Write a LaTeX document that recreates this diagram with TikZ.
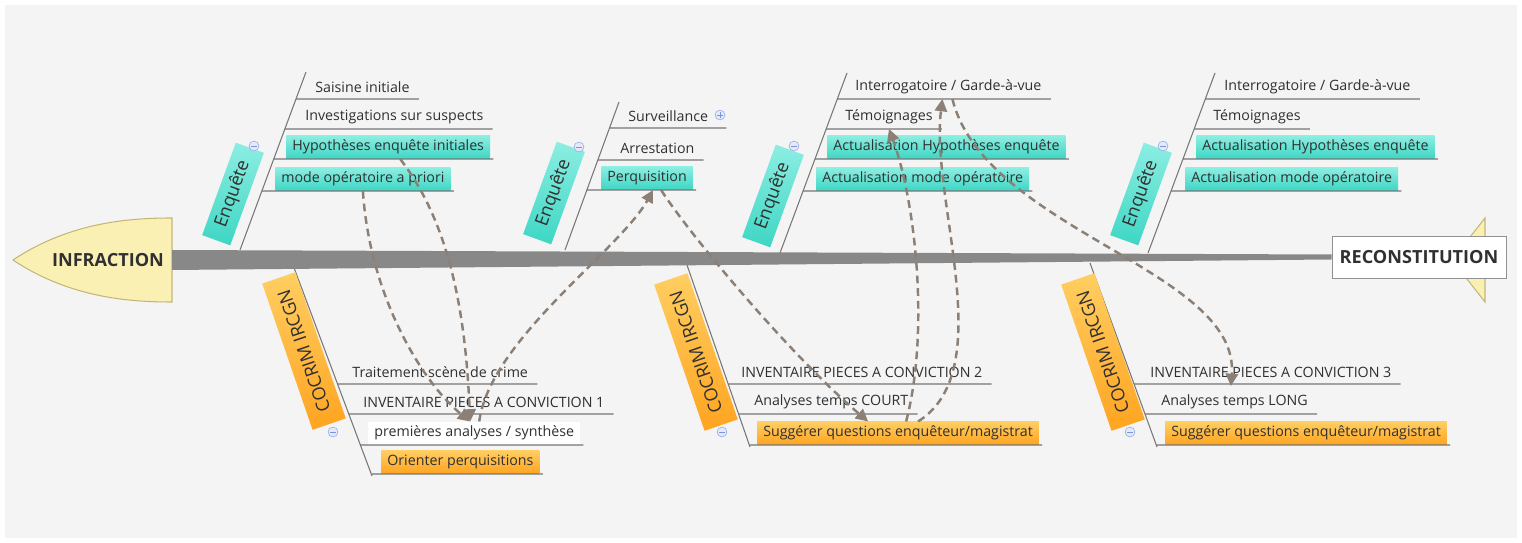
\documentclass[tikz,border=0pt]{standalone}
\usepackage{fontspec}
\setmainfont{Open Sans}
\usepackage{xcolor}
\usepackage{tikz}
\usetikzlibrary{arrows.meta,calc}
\definecolor{bggray}{RGB}{244,244,244}
\definecolor{spinegray}{RGB}{136,136,136}
\definecolor{ribgray}{RGB}{118,118,118}
\definecolor{inkgray}{RGB}{48,48,48}
\definecolor{tealtop}{RGB}{140,238,226}
\definecolor{tealbot}{RGB}{62,214,196}
\definecolor{orangetop}{RGB}{255,206,98}
\definecolor{orangebot}{RGB}{255,164,32}
\definecolor{headfill}{RGB}{250,240,180}
\definecolor{headline}{RGB}{196,182,120}
\definecolor{flowgray}{RGB}{140,128,118}
\definecolor{togblue}{RGB}{120,148,222}

\begin{document}
\begin{tikzpicture}[x=0.02cm, y={(0,-0.02cm)},
    item/.style={anchor=south west, inner xsep=3.4pt, inner ysep=0pt, minimum height=13pt, font=\fontsize{8.1}{9.5}\selectfont, text=inkgray},
    tealbox/.style={item, top color=tealtop, bottom color=tealbot},
    orangebox/.style={item, top color=orangetop, bottom color=orangebot},
    whitebox/.style={item, fill=white},
    bone/.style={draw=ribgray, line width=0.6pt},
    rib/.style={draw=ribgray, line width=0.6pt},
    enq/.style={rotate=70, minimum width=56pt, minimum height=17pt, inner sep=0pt, top color=tealtop, bottom color=tealbot, font=\fontsize{10.3}{12}\selectfont, text=inkgray},
    coc/.style={rotate=109, minimum width=88pt, minimum height=20pt, inner sep=0pt, top color=orangetop, bottom color=orangebot, font=\fontsize{10.3}{12}\selectfont, text=inkgray},
    toggle/.style={circle, draw=togblue!70, fill=togblue!20, minimum size=5.6pt, inner sep=0pt,
        path picture={\draw[togblue, line width=0.5pt] ([xshift=1.3pt]path picture bounding box.west) -- ([xshift=-1.3pt]path picture bounding box.east);}},
    toggleplus/.style={toggle, path picture={\draw[togblue, line width=0.5pt] ([xshift=1.3pt]path picture bounding box.west) -- ([xshift=-1.3pt]path picture bounding box.east) ([yshift=-1.3pt]path picture bounding box.north) -- ([yshift=1.3pt]path picture bounding box.south);}},
    endbox/.style={draw=ribgray!80, fill=white, minimum width=99pt, minimum height=23.8pt, font=\fontsize{10.3}{12}\selectfont\bfseries, text=inkgray},
    flow/.style={draw=flowgray, line width=1.4pt, dash pattern=on 4.4pt off 2.8pt, -{Triangle[length=7pt,width=7pt]}}
]
\useasboundingbox (0,0) rectangle (1522,543);
\fill[white] (0,0) rectangle (1522,543);
\fill[bggray] (5,5) rectangle (1517,538);

% bones
\coordinate (b1a) at (240,250); \coordinate (b1b) at (306,72);
\coordinate (b2a) at (565,250); \coordinate (b2b) at (619,102);
\coordinate (b3a) at (780,253); \coordinate (b3b) at (847,73);
\coordinate (b4a) at (1148,253); \coordinate (b4b) at (1215,73);
\coordinate (b5a) at (293,265); \coordinate (b5b) at (372,476);
\coordinate (b6a) at (687,265); \coordinate (b6b) at (750,447);
\coordinate (b7a) at (1090,263); \coordinate (b7b) at (1157,447);
\draw[bone] (b1a) -- (b1b);
\draw[bone] (b2a) -- (b2b);
\draw[bone] (b3a) -- (b3b);
\draw[bone] (b4a) -- (b4b);
\draw[bone] (b5a) -- (b5b);
\draw[bone] (b6a) -- (b6b);
\draw[bone] (b7a) -- (b7b);

% head, tail and spine
\draw[fill=headfill, draw=headline, line width=0.6pt] (13,260) .. controls (70,222) and (130,218) .. (172,218) -- (172,302) .. controls (130,302) and (70,298) .. (13,260) -- cycle;
\node[font=\fontsize{10.3}{12}\selectfont\bfseries, text=inkgray] (infraction) at (108,260) {INFRACTION};
\draw[fill=headfill, draw=headline, line width=0.6pt] (1485,218) -- (1485,302) -- (1452,260) -- cycle;
\node[endbox] (reconst) at (1419,257) {RECONSTITUTION};
\fill[spinegray] (172,250) -- ($(reconst.west)+(0,-2.5)$) -- ($(reconst.west)+(0,2.5)$) -- (172,270) -- cycle;

% Enquete 1
\node[item] (sai1) at (309,99) {Saisine initiale};
\node[item] (sus1) at (299,129) {Investigations sur suspects};
\node[tealbox] (hyp1) at (286,159) {Hypothèses enquête initiales};
\node[tealbox] (mod1) at (275,191) {mode opératoire a priori};
% Enquete 2
\node[item] (surv2) at (622,128) {Surveillance};
\node[item] (arr2) at (614,160) {Arrestation};
\node[tealbox] (perq2) at (601,190) {Perquisition};
% Enquete 3
\node[item] (int3) at (849,99) {Interrogatoire / Garde-à-vue};
\node[item] (tem3) at (839,129) {Témoignages};
\node[tealbox] (ahyp3) at (827,159) {Actualisation Hypothèses enquête};
\node[tealbox] (amod3) at (816,191) {Actualisation mode opératoire};
% Enquete 4
\node[item] (int4) at (1218,99) {Interrogatoire / Garde-à-vue};
\node[item] (tem4) at (1207,129) {Témoignages};
\node[tealbox] (ahyp4) at (1196,159) {Actualisation Hypothèses enquête};
\node[tealbox] (amod4) at (1185,191) {Actualisation mode opératoire};
% COCRIM 1
\node[item] (trait5) at (346,384) {Traitement scène de crime};
\node[item] (inv5) at (357,414) {INVENTAIRE PIECES A CONVICTION 1};
\node[whitebox] (prem5) at (368,445) {premières analyses / synthèse};
\node[orangebox] (ori5) at (381,474) {Orienter perquisitions};
% COCRIM 2
\node[item] (inv6) at (735,384) {INVENTAIRE PIECES A CONVICTION 2};
\node[item] (ana6) at (748,414) {Analyses temps COURT};
\node[orangebox] (sug6) at (757,445) {Suggérer questions enquêteur/magistrat};
% COCRIM 3
\node[item] (inv7) at (1144,384) {INVENTAIRE PIECES A CONVICTION 3};
\node[item] (ana7) at (1155,414) {Analyses temps LONG};
\node[orangebox] (sug7) at (1165,445) {Suggérer questions enquêteur/magistrat};

% ribs
\draw[rib] (intersection of b1a--b1b and sai1.south west--sai1.south east) -- ($(sai1.south east)+(3,0)$);
\draw[rib] (intersection of b1a--b1b and sus1.south west--sus1.south east) -- ($(sus1.south east)+(3,0)$);
\draw[rib] (intersection of b1a--b1b and hyp1.south west--hyp1.south east) -- ($(hyp1.south east)+(3,0)$);
\draw[rib] (intersection of b1a--b1b and mod1.south west--mod1.south east) -- ($(mod1.south east)+(3,0)$);
\draw[rib] (intersection of b2a--b2b and surv2.south west--surv2.south east) -- ($(surv2.south east)+(12,0)$);
\draw[rib] (intersection of b2a--b2b and arr2.south west--arr2.south east) -- ($(arr2.south east)+(3,0)$);
\draw[rib] (intersection of b2a--b2b and perq2.south west--perq2.south east) -- ($(perq2.south east)+(3,0)$);
\draw[rib] (intersection of b3a--b3b and int3.south west--int3.south east) -- ($(int3.south east)+(3,0)$);
\draw[rib] (intersection of b3a--b3b and tem3.south west--tem3.south east) -- ($(tem3.south east)+(3,0)$);
\draw[rib] (intersection of b3a--b3b and ahyp3.south west--ahyp3.south east) -- ($(ahyp3.south east)+(3,0)$);
\draw[rib] (intersection of b3a--b3b and amod3.south west--amod3.south east) -- ($(amod3.south east)+(3,0)$);
\draw[rib] (intersection of b4a--b4b and int4.south west--int4.south east) -- ($(int4.south east)+(3,0)$);
\draw[rib] (intersection of b4a--b4b and tem4.south west--tem4.south east) -- ($(tem4.south east)+(3,0)$);
\draw[rib] (intersection of b4a--b4b and ahyp4.south west--ahyp4.south east) -- ($(ahyp4.south east)+(3,0)$);
\draw[rib] (intersection of b4a--b4b and amod4.south west--amod4.south east) -- ($(amod4.south east)+(3,0)$);
\draw[rib] (intersection of b5a--b5b and trait5.south west--trait5.south east) -- ($(trait5.south east)+(3,0)$);
\draw[rib] (intersection of b5a--b5b and inv5.south west--inv5.south east) -- ($(inv5.south east)+(3,0)$);
\draw[rib] (intersection of b5a--b5b and prem5.south west--prem5.south east) -- ($(prem5.south east)+(3,0)$);
\draw[rib] (intersection of b5a--b5b and ori5.south west--ori5.south east) -- ($(ori5.south east)+(3,0)$);
\draw[rib] (intersection of b6a--b6b and inv6.south west--inv6.south east) -- ($(inv6.south east)+(3,0)$);
\draw[rib] (intersection of b6a--b6b and ana6.south west--ana6.south east) -- ($(ana6.south east)+(3,0)$);
\draw[rib] (intersection of b6a--b6b and sug6.south west--sug6.south east) -- ($(sug6.south east)+(3,0)$);
\draw[rib] (intersection of b7a--b7b and inv7.south west--inv7.south east) -- ($(inv7.south east)+(3,0)$);
\draw[rib] (intersection of b7a--b7b and ana7.south west--ana7.south east) -- ($(ana7.south east)+(3,0)$);
\draw[rib] (intersection of b7a--b7b and sug7.south west--sug7.south east) -- ($(sug7.south east)+(3,0)$);

% category labels
\node[enq] (enq1) at (233,194) {Enquête};
\node[enq] (enq2) at (554,193) {Enquête};
\node[enq] (enq3) at (773,196) {Enquête};
\node[enq] (enq4) at (1141,194) {Enquête};
\node[coc] (coc5) at (304,351) {COCRIM IRCGN};
\node[coc] (coc6) at (696,352) {COCRIM IRCGN};
\node[coc] (coc7) at (1103,352) {COCRIM IRCGN};

% collapse buttons
\node[toggle] (t1) at (254,146) {};
\node[toggle] (t2) at (579,147) {};
\node[toggle] (t3) at (794,146) {};
\node[toggle] (t4) at (1163,146) {};
\node[toggle] (t5) at (333,432) {};
\node[toggle] (t6) at (722,432) {};
\node[toggle] (t7) at (1130,432) {};
\node[toggleplus] (tsurv) at (720,115) {};

% relations
\draw[flow] (mod1.south) .. controls (370,300) and (425,385) .. ($(prem5.north)+(-4,0)$);
\draw[flow] ($(hyp1.south)+(12,0)$) .. controls (455,230) and (466,330) .. ($(prem5.north)+(-4,0)$);
\draw[flow] ($(prem5.north)+(5,0)$) .. controls (490,340) and (620,250) .. ($(perq2.south)+(6,0)$);
\draw[flow] ($(perq2.south)+(14,0)$) .. controls (690,235) and (790,355) .. ($(sug6.north)+(-30,0)$);
\draw[flow] ($(sug6.north)+(8,0)$) .. controls (930,330) and (915,200) .. (tem3.south);
\draw[flow] ($(sug6.north)+(20,0)$) .. controls (1000,370) and (930,200) .. ($(int3.south)+(-6,0)$);
\draw[flow] ($(int3.south)+(4,0)$) .. controls (985,230) and (1240,270) .. ($(inv7.south)+(-40,2)$);
\end{tikzpicture}
\end{document}
